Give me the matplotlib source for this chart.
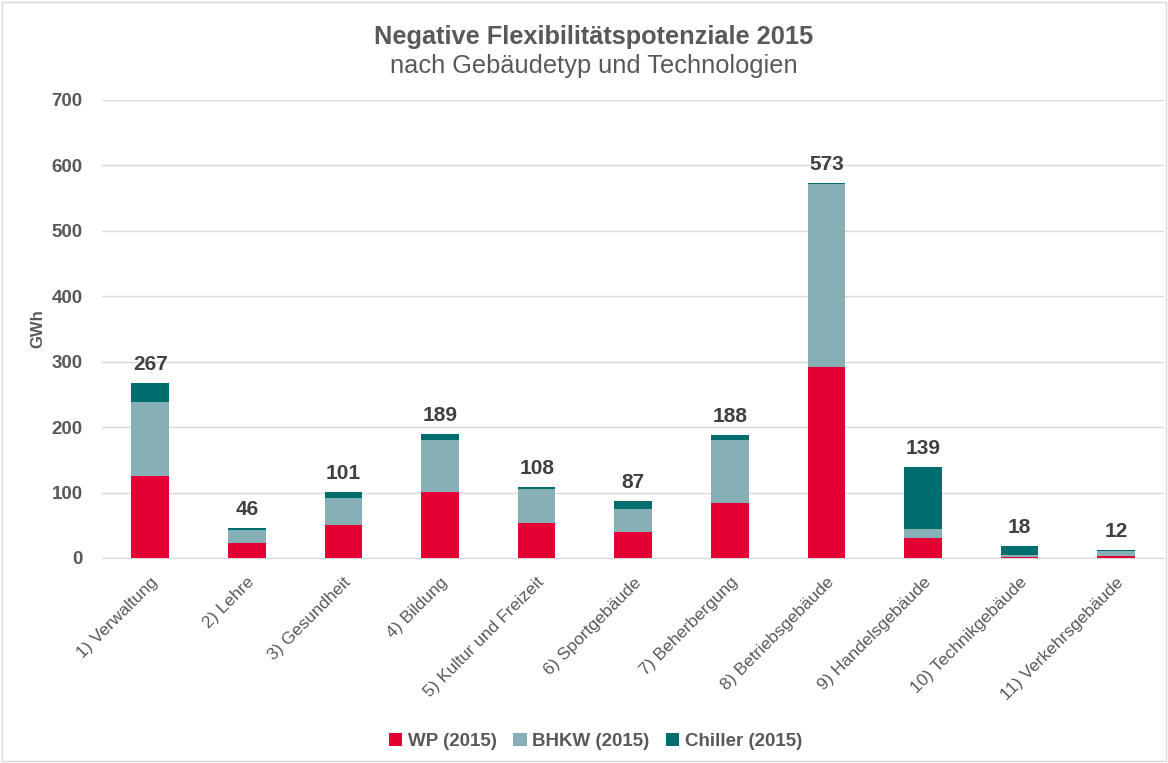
import numpy as np
import matplotlib
matplotlib.use("Agg")
import matplotlib.pyplot as plt
from matplotlib.patches import Rectangle

plt.rcParams['font.family'] = ['Liberation Sans', 'DejaVu Sans']

categories = ['1) Verwaltung', '2) Lehre', '3) Gesundheit', '4) Bildung',
              '5) Kultur und Freizeit', '6) Sportgebäude', '7) Beherbergung',
              '8) Betriebsgebäude', '9) Handelsgebäude', '10) Technikgebäude',
              '11) Verkehrsgebäude']
wp = [126, 23, 50, 101, 53, 40, 84, 292, 30, 1, 3]
bhkw = [113, 20, 42, 80, 52, 35, 96, 279, 15, 3, 8]
chiller = [28, 3, 9, 8, 3, 12, 8, 2, 94, 14, 1]
totals = [267, 46, 101, 189, 108, 87, 188, 573, 139, 18, 12]

c_wp = '#E40032'
c_bhkw = '#86B0B5'
c_ch = '#006E6E'
grey = '#595959'

fig = plt.figure(figsize=(11.68, 7.63), dpi=100)
fig.patches.append(Rectangle((0.002, 0.002), 0.996, 0.996, transform=fig.transFigure,
                             fill=False, edgecolor='#D9D9D9', linewidth=1))
ax = fig.add_axes([0.0873, 0.2687, 0.9097, 0.6003])

x = np.arange(len(categories))
w = 0.39
wp_a = np.array(wp)
bh_a = np.array(bhkw)
ax.bar(x, wp, w, color=c_wp, label='WP (2015)', zorder=3)
ax.bar(x, bhkw, w, bottom=wp_a, color=c_bhkw, label='BHKW (2015)', zorder=3)
ax.bar(x, chiller, w, bottom=wp_a + bh_a, color=c_ch, label='Chiller (2015)', zorder=3)

for xi, t in zip(x, totals):
    ax.text(xi, t + 14, str(t), ha='center', va='bottom', fontsize=15,
            fontweight='bold', color='#404040')

ax.set_xlim(-0.5, len(categories) - 0.5)
ax.set_ylim(0, 700)
ax.set_yticks(range(0, 701, 100))
ax.yaxis.grid(True, color='#D9D9D9', linewidth=1, zorder=0)
ax.set_axisbelow(True)
for s in ['top', 'right', 'left']:
    ax.spines[s].set_visible(False)
ax.spines['bottom'].set_color('#D9D9D9')
ax.tick_params(axis='y', length=0, pad=14, labelsize=13.5, labelcolor=grey)
ax.tick_params(axis='x', length=0, pad=12, labelsize=12.6, labelcolor=grey)
for lbl in ax.get_yticklabels():
    lbl.set_fontweight('bold')
ax.set_xticks(x)
ax.set_xticklabels(categories, rotation=45, ha='right', rotation_mode='anchor')
ax.set_ylabel('GWh', fontsize=12, fontweight='bold', color=grey)
ax.yaxis.set_label_coords(-0.053, 0.5)

fig.text(0.508, 0.951, 'Negative Flexibilitätspotenziale 2015', ha='center', va='center',
         fontsize=18.3, fontweight='bold', color=grey)
fig.text(0.508, 0.913, 'nach Gebäudetyp und Technologien', ha='center', va='center',
         fontsize=18.3, color=grey)

fig.legend(loc='center', bbox_to_anchor=(0.51, 0.028), ncol=3, frameon=False,
           handlelength=0.7, handleheight=0.7, columnspacing=0.9,
           handletextpad=0.3, prop={'weight': 'bold', 'size': 13.5})
for t in fig.legends[0].get_texts():
    t.set_color(grey)

fig.savefig('out.png', dpi=100)
